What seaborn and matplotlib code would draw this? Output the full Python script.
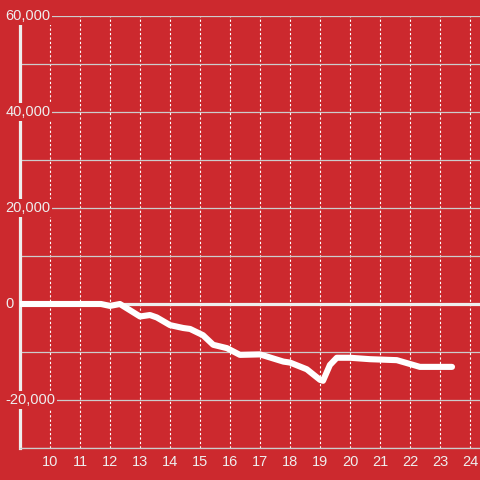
import matplotlib
matplotlib.use("Agg")
import matplotlib.pyplot as plt
import numpy as np
import pandas as pd
import seaborn as sns

# hour of day vs. cumulative value
hours = [9.0, 11.7, 12.0, 12.33, 13.0, 13.33, 13.56, 14.0, 14.44, 14.67, 15.1,
         15.44, 15.9, 16.33, 17.0, 17.78, 18.0, 18.56, 19.0, 19.1, 19.33, 19.56,
         20.0, 20.67, 21.56, 22.22, 22.33, 23.4]
values = [0, 0, -400, 0, -2600, -2300, -2800, -4400, -5000, -5200, -6500,
          -8500, -9200, -10600, -10500, -12000, -12200, -13600, -15800, -16000,
          -12700, -11200, -11200, -11500, -11700, -12900, -13100, -13100]

x_ticks = list(range(10, 25))
y_labels = [-20000, 0, 20000, 40000, 60000]
y_grid = list(range(-30000, 60001, 10000))

BG = "#cc292e"
FG = "#eeeeee"

sns.set_theme(style="white")
plt.rcParams["font.family"] = ["Liberation Sans", "DejaVu Sans"]

df = pd.DataFrame({"hour": hours, "value": values})

fig = plt.figure(figsize=(4.8, 4.8), dpi=100, facecolor=BG)
ax = fig.add_axes([20 / 480, 32 / 480, 460 / 480, 432 / 480], facecolor=BG)

sns.lineplot(data=df, x="hour", y="value", color="white", lw=4.4,
             solid_joinstyle="round", ax=ax, zorder=4)

ax.set_xlim(9, 24.333)
ax.set_ylim(-30000, 60000)

# grid
ax.set_yticks(y_grid)
ax.set_yticklabels([])
ax.tick_params(axis="y", length=0)
ax.yaxis.grid(True, color="#cccccc", lw=0.9)
ax.set_xticks(x_ticks)
ax.set_xticklabels([str(t) for t in x_ticks], color=FG, fontsize=10.5)
ax.tick_params(axis="x", length=0, pad=5)
ax.xaxis.grid(True, color="white", lw=0.8, linestyle=(0, (2, 2)))

ax.axhline(0, color=FG, lw=2.3, zorder=3)

for s in ["top", "right"]:
    ax.spines[s].set_visible(False)
ax.spines["left"].set_color(FG)
ax.spines["left"].set_linewidth(2.3)
ax.spines["bottom"].set_color("#cccccc")
ax.spines["bottom"].set_linewidth(0.9)

for v in y_labels:
    ax.text(-0.031, v, f"{v:,}", transform=ax.get_yaxis_transform(),
            ha="left", va="center", color=FG, fontsize=10.5, zorder=6,
            clip_on=False,
            bbox=dict(facecolor=BG, edgecolor="none", pad=1.2))

ax.set_xlabel("")
ax.set_ylabel("")

fig.savefig("out.png", dpi=100, facecolor=BG)
